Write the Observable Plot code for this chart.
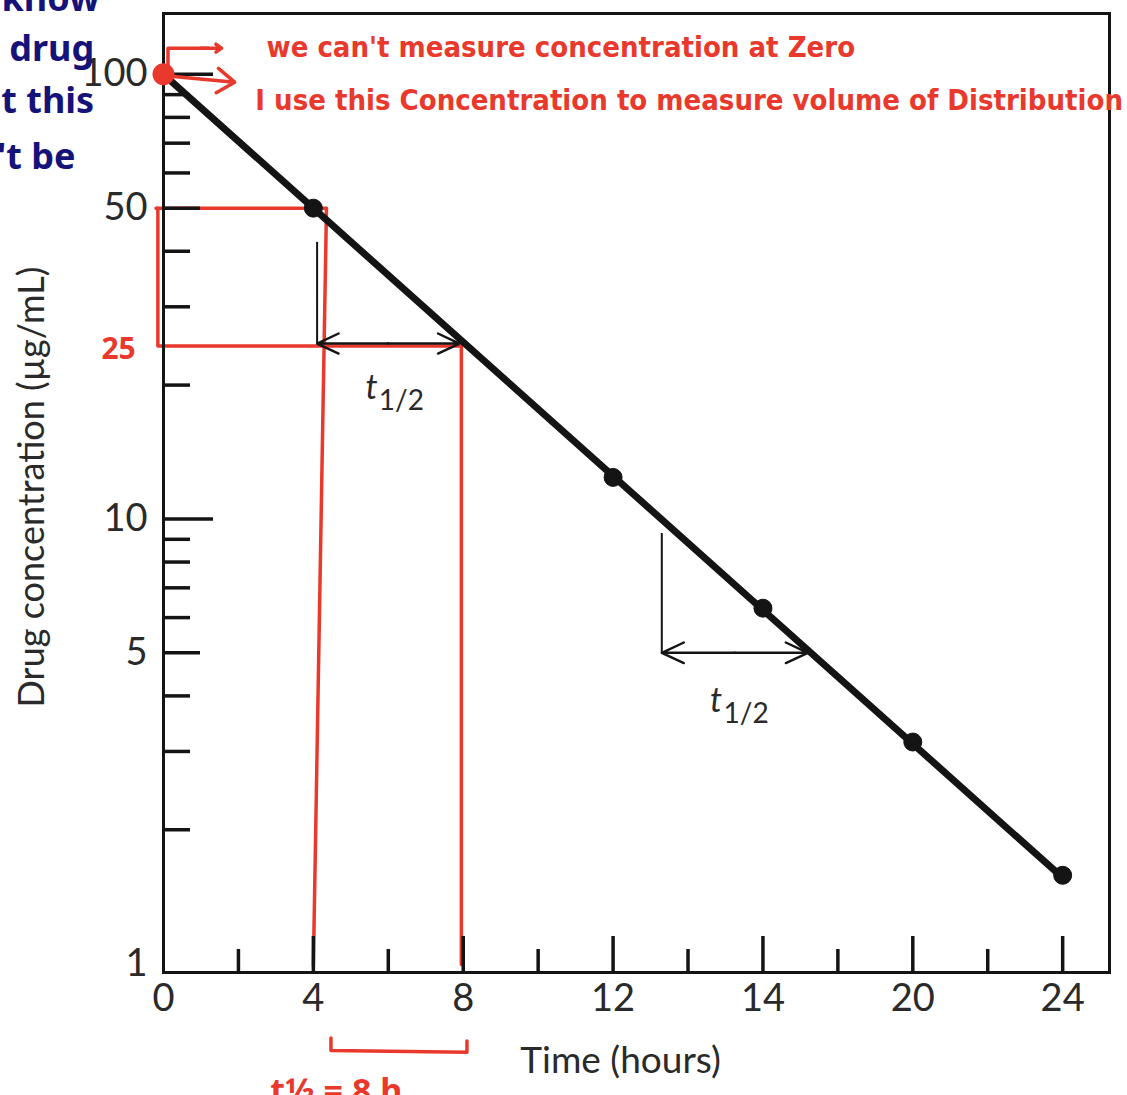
<!DOCTYPE html>
<html><head><meta charset="utf-8">
<script src="https://cdn.jsdelivr.net/npm/d3@7"></script>
<script src="https://cdn.jsdelivr.net/npm/@observablehq/plot@0.6"></script>
<style>html,body{margin:0;padding:0;background:#fff}svg{display:block}</style>
</head><body><div id="chart"></div>
<script>
// ---- data ----
const lineTime = [0, 24];
const lineConc = [100, 1.56];
const pointTime = [4, 12, 16, 20, 24];
const pointConc = [50, 12.4, 6.3, 3.15, 1.58];

// ---- axis ticks ----
const xLabelTicks = [0, 4, 8, 12, 16, 20, 24];
const xTickLabels = ["0", "4", "8", "12", "14", "20", "24"];
const xMajorTicks = [4, 8, 12, 16, 20, 24];
const xMinorTicks = [2, 6, 10, 14, 18, 22];
const yLabelTicks = [1, 5, 10, 50, 100];
const yLongTicks = [10, 100];
const yMidTicks = [5, 50];
const yMinorTicks = [2, 3, 4, 6, 7, 8, 9, 20, 30, 40, 60, 70, 80, 90];

// ---- half-life markers (time, concentration) ----
const hlVerticalT = [4.1, 13.3];
const hlTopC = [42, 9.3];
const hlLevelC = [24.8, 5.0];
const hlEndT = [7.9, 17.2];
const hlLabelT = [5.55, 14.75];
const hlLabelC = [19.7, 3.9];

// ---- handwritten annotations ----
const redNotes = ["we can't measure concentration at Zero", "I use this Concentration to measure volume of Distribution"];
const redNoteT = [2.75, 2.45];
const redNoteC = [115, 87];
const navyNotes = ["to know", "a drug", "at this", "n't be"];
const navyNoteC = [147, 114, 87, 65];
const navyNoteT = [-1.7, -1.85, -1.85, -2.35];

const RED = "#e8392c";
const NAVY = "#15127a";
const INK = "#141414";

const pts = pointTime.map((t, i) => ({t, c: pointConc[i]}));
const ln = lineTime.map((t, i) => ({t, c: lineConc[i]}));
const hl = hlVerticalT.map((t, i) => ({t, top: hlTopC[i], lvl: hlLevelC[i], end: hlEndT[i], mid: (t + hlEndT[i]) / 2, lt: hlLabelT[i], lc: hlLabelC[i]}));

const redLines = [
  [{t: -0.2, c: 50}, {t: 4.35, c: 50}, {t: 4.0, c: 0.99}],
  [{t: -0.15, c: 50}, {t: -0.15, c: 24.5}, {t: 7.95, c: 24.5}, {t: 7.95, c: 0.995}],
  [{t: 4.47, c: 0.68}, {t: 4.47, c: 0.638}, {t: 8.1, c: 0.632}, {t: 8.1, c: 0.67}],
  [{t: 0.12, c: 100}, {t: 0.12, c: 114.5}, {t: 1.2, c: 114.5}]
].flatMap((seg, k) => seg.map(d => ({...d, k})));

const chart = Plot.plot({
  width: 1127,
  height: 1095,
  marginLeft: 163,
  marginRight: 18,
  marginTop: 13,
  marginBottom: 123,
  x: {domain: [0, 25.25], axis: null},
  y: {type: "log", domain: [0.955, 137], axis: null},
  style: {fontFamily: "Lato, 'Open Sans', sans-serif", background: "white", overflow: "visible"},
  marks: [
    // red guide lines (under the data)
    Plot.line(redLines, {x: "t", y: "c", z: "k", stroke: RED, strokeWidth: 3.5, clip: false}),
    // frame
    Plot.frame({stroke: INK, strokeWidth: 3}),
    // inward ticks
    Plot.axisX(xMajorTicks, {tickSize: -36, tickFormat: () => "", stroke: INK, strokeWidth: 3.5, label: null}),
    Plot.axisX(xMinorTicks, {tickSize: -23, tickFormat: () => "", stroke: INK, strokeWidth: 3.5, label: null}),
    Plot.axisY(yLongTicks, {tickSize: -50, tickFormat: () => "", stroke: INK, strokeWidth: 3.5, label: null}),
    Plot.axisY(yMidTicks, {tickSize: -37, tickFormat: () => "", stroke: INK, strokeWidth: 3.5, label: null}),
    Plot.axisY(yMinorTicks, {tickSize: -27, tickFormat: () => "", stroke: INK, strokeWidth: 3.5, label: null}),
    // tick labels
    Plot.axisX(xLabelTicks, {tickSize: 0, tickPadding: 12, fontSize: 38, fill: "#2a2a2a", label: null,
      tickFormat: d => xTickLabels[xLabelTicks.indexOf(d)]}),
    Plot.axisY(yLabelTicks, {tickSize: 0, tickPadding: 16, fontSize: 38, fill: "#2a2a2a", label: null,
      tickFormat: d => String(d)}),
    // axis titles
    Plot.text(["Time (hours)"], {x: 12.2, frameAnchor: "bottom", dy: 100, fontSize: 37, fill: "#2a2a2a"}),
    Plot.text(["Drug concentration (µg/mL)"], {frameAnchor: "left", textAnchor: "middle", dx: -131, dy: -6, rotate: -90, fontSize: 36, fill: "#2a2a2a"}),
    // data
    Plot.line(ln, {x: "t", y: "c", stroke: INK, strokeWidth: 7}),
    Plot.dot(pts, {x: "t", y: "c", r: 9, fill: INK, stroke: INK, strokeWidth: 1}),
    // half-life markers
    Plot.link(hl, {x1: "t", y1: "top", x2: "t", y2: "lvl", stroke: INK, strokeWidth: 2}),
    Plot.arrow(hl, {x1: "mid", y1: "lvl", x2: "t", y2: "lvl", stroke: INK, strokeWidth: 2.4, headLength: 16, headAngle: 50}),
    Plot.arrow(hl, {x1: "mid", y1: "lvl", x2: "end", y2: "lvl", stroke: INK, strokeWidth: 2.4, headLength: 16, headAngle: 50}),
    Plot.text(hl, {x: "lt", y: "lc", text: () => "t", fontSize: 34, fontStyle: "italic", fill: "#2a2a2a"}),
    Plot.text(hl, {x: "lt", y: "lc", text: () => "1/2", dx: 30, dy: 13, fontSize: 28, fill: "#2a2a2a"}),
    // red annotations
    Plot.dot([{t: 0, c: 100}], {x: "t", y: "c", r: 11, fill: RED}),
    Plot.arrow([{t1: 1.0, t2: 1.55, c: 114.5}], {x1: "t1", x2: "t2", y1: "c", y2: "c", stroke: RED, strokeWidth: 3.5, headLength: 18, headAngle: 70}),
    Plot.arrow([{t1: 0.2, c1: 99, t2: 1.9, c2: 96}], {x1: "t1", x2: "t2", y1: "c1", y2: "c2", stroke: RED, strokeWidth: 3.5, headLength: 18, headAngle: 70}),
    Plot.text(redNotes, {x: (d, i) => redNoteT[i], y: (d, i) => redNoteC[i], text: d => d, textAnchor: "start",
      fontSize: 29, fontWeight: 700, fill: RED, fontFamily: "'DejaVu Sans Condensed', 'Noto Sans', sans-serif", ariaLabel: "rednote"}),
    Plot.text(["25"], {x: -1.2, y: 24, fontSize: 30, fontWeight: 700, fill: RED, fontFamily: "'Noto Sans', sans-serif"}),
    Plot.text(["t½ = 8 h"], {x: 2.85, y: 0.515, textAnchor: "start", fontSize: 34, fontWeight: 700, fill: RED, fontFamily: "'Noto Sans', sans-serif"}),
    // navy handwriting at left edge
    Plot.text(navyNotes, {x: (d, i) => navyNoteT[i], y: (d, i) => navyNoteC[i], text: d => d, textAnchor: "end",
      fontSize: 36, fontWeight: 700, fill: NAVY, fontFamily: "'Noto Sans', sans-serif"})
  ]
});
document.getElementById("chart").appendChild(chart);
// stretch handwritten red notes to the widths they occupy in the picture
const noteWidths = [535, 866];
d3.select(chart).selectAll('g[aria-label="rednote"] text').each(function(d, i) {
  d3.select(this).attr("textLength", noteWidths[i]).attr("lengthAdjust", "spacingAndGlyphs");
});
</script>
</body></html>
